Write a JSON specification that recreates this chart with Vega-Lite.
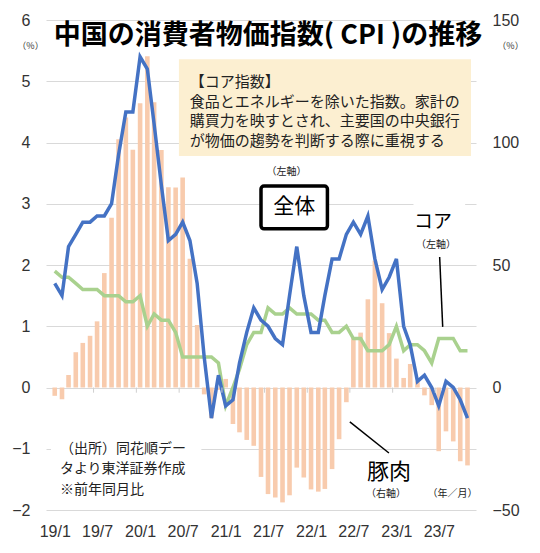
{
  "$schema": "https://vega.github.io/schema/vega-lite/v6.json",
  "width": 430,
  "height": 490,
  "autosize": {"type": "none"},
  "padding": {"left": 46, "top": 20, "right": 64, "bottom": 43},
  "background": "white",
  "title": {
    "text": "中国の消費者物価指数( CPI )の推移",
    "font": "Noto Sans CJK JP",
    "fontSize": 27,
    "fontWeight": "bold",
    "color": "#000",
    "anchor": "middle",
    "frame": "group",
    "offset": -38,
    "dx": 7
  },
  "config": {
    "view": {"stroke": null},
    "axis": {"labelFont": "Liberation Sans", "labelFontSize": 16, "labelColor": "#333", "titleFont": "Noto Sans CJK JP"}
  },
  "data": {
    "values": [
      {"date": "2019-01", "cpi": 1.7, "core": 1.9, "pork": -3.4},
      {"date": "2019-02", "cpi": 1.5, "core": 1.8, "pork": -4.8},
      {"date": "2019-03", "cpi": 2.3, "core": 1.8, "pork": 5.1},
      {"date": "2019-04", "cpi": 2.5, "core": 1.7, "pork": 14.4},
      {"date": "2019-05", "cpi": 2.7, "core": 1.6, "pork": 18.2},
      {"date": "2019-06", "cpi": 2.7, "core": 1.6, "pork": 21.1},
      {"date": "2019-07", "cpi": 2.8, "core": 1.6, "pork": 27.0},
      {"date": "2019-08", "cpi": 2.8, "core": 1.5, "pork": 46.7},
      {"date": "2019-09", "cpi": 3.0, "core": 1.5, "pork": 69.3},
      {"date": "2019-10", "cpi": 3.8, "core": 1.5, "pork": 101.3},
      {"date": "2019-11", "cpi": 4.5, "core": 1.4, "pork": 110.2},
      {"date": "2019-12", "cpi": 4.5, "core": 1.4, "pork": 97.0},
      {"date": "2020-01", "cpi": 5.4, "core": 1.5, "pork": 116.0},
      {"date": "2020-02", "cpi": 5.2, "core": 1.0, "pork": 135.2},
      {"date": "2020-03", "cpi": 4.3, "core": 1.2, "pork": 116.4},
      {"date": "2020-04", "cpi": 3.3, "core": 1.1, "pork": 96.9},
      {"date": "2020-05", "cpi": 2.4, "core": 1.1, "pork": 81.7},
      {"date": "2020-06", "cpi": 2.5, "core": 0.9, "pork": 81.6},
      {"date": "2020-07", "cpi": 2.7, "core": 0.5, "pork": 85.7},
      {"date": "2020-08", "cpi": 2.4, "core": 0.5, "pork": 52.6},
      {"date": "2020-09", "cpi": 1.7, "core": 0.5, "pork": 25.5},
      {"date": "2020-10", "cpi": 0.5, "core": 0.5, "pork": -2.8},
      {"date": "2020-11", "cpi": -0.5, "core": 0.5, "pork": -12.5},
      {"date": "2020-12", "cpi": 0.2, "core": 0.4, "pork": -1.0},
      {"date": "2021-01", "cpi": -0.3, "core": -0.3, "pork": 3.5},
      {"date": "2021-02", "cpi": -0.2, "core": 0.0, "pork": -14.9},
      {"date": "2021-03", "cpi": 0.4, "core": 0.3, "pork": -18.3},
      {"date": "2021-04", "cpi": 0.9, "core": 0.7, "pork": -21.4},
      {"date": "2021-05", "cpi": 1.3, "core": 0.9, "pork": -23.8},
      {"date": "2021-06", "cpi": 1.1, "core": 0.9, "pork": -36.5},
      {"date": "2021-07", "cpi": 1.0, "core": 1.3, "pork": -43.5},
      {"date": "2021-08", "cpi": 0.8, "core": 1.2, "pork": -44.9},
      {"date": "2021-09", "cpi": 0.7, "core": 1.2, "pork": -46.9},
      {"date": "2021-10", "cpi": 1.5, "core": 1.3, "pork": -44.0},
      {"date": "2021-11", "cpi": 2.3, "core": 1.2, "pork": -32.7},
      {"date": "2021-12", "cpi": 1.5, "core": 1.2, "pork": -36.7},
      {"date": "2022-01", "cpi": 0.9, "core": 1.2, "pork": -41.6},
      {"date": "2022-02", "cpi": 0.9, "core": 1.1, "pork": -42.5},
      {"date": "2022-03", "cpi": 1.5, "core": 1.1, "pork": -41.4},
      {"date": "2022-04", "cpi": 2.1, "core": 0.9, "pork": -33.3},
      {"date": "2022-05", "cpi": 2.1, "core": 0.9, "pork": -21.1},
      {"date": "2022-06", "cpi": 2.5, "core": 1.0, "pork": -6.0},
      {"date": "2022-07", "cpi": 2.7, "core": 0.8, "pork": 20.2},
      {"date": "2022-08", "cpi": 2.5, "core": 0.8, "pork": 22.4},
      {"date": "2022-09", "cpi": 2.8, "core": 0.6, "pork": 36.0},
      {"date": "2022-10", "cpi": 2.1, "core": 0.6, "pork": 51.8},
      {"date": "2022-11", "cpi": 1.6, "core": 0.6, "pork": 34.4},
      {"date": "2022-12", "cpi": 1.8, "core": 0.7, "pork": 22.2},
      {"date": "2023-01", "cpi": 2.1, "core": 1.0, "pork": 11.8},
      {"date": "2023-02", "cpi": 1.0, "core": 0.6, "pork": 3.9},
      {"date": "2023-03", "cpi": 0.7, "core": 0.7, "pork": 9.6},
      {"date": "2023-04", "cpi": 0.1, "core": 0.7, "pork": 2.5},
      {"date": "2023-05", "cpi": 0.2, "core": 0.6, "pork": -3.2},
      {"date": "2023-06", "cpi": 0.0, "core": 0.4, "pork": -7.2},
      {"date": "2023-07", "cpi": -0.3, "core": 0.8, "pork": -26.0},
      {"date": "2023-08", "cpi": 0.1, "core": 0.8, "pork": -17.9},
      {"date": "2023-09", "cpi": 0.0, "core": 0.8, "pork": -22.0},
      {"date": "2023-10", "cpi": -0.2, "core": 0.6, "pork": -30.1},
      {"date": "2023-11", "cpi": -0.5, "core": 0.6, "pork": -31.8}
    ]
  },
  "resolve": {
    "scale": {"y": "independent"},
    "axis": {"y": "independent"}
  },
  "layer": [
    {
      "mark": {"type": "bar", "color": "#f8cbad", "width": 4.6},
      "encoding": {
        "x": {
          "field": "date",
          "type": "temporal",
          "scale": {
            "type": "utc",
            "domain": [
              {"year": 2018, "month": 12, "date": 16, "utc": true},
              {"year": 2023, "month": 11, "date": 16, "utc": true}
            ]
          },
          "axis": {
            "orient": "bottom",
            "title": null,
            "values": [
              {"year": 2019, "month": 1, "date": 1, "utc": true},
              {"year": 2019, "month": 7, "date": 1, "utc": true},
              {"year": 2020, "month": 1, "date": 1, "utc": true},
              {"year": 2020, "month": 7, "date": 1, "utc": true},
              {"year": 2021, "month": 1, "date": 1, "utc": true},
              {"year": 2021, "month": 7, "date": 1, "utc": true},
              {"year": 2022, "month": 1, "date": 1, "utc": true},
              {"year": 2022, "month": 7, "date": 1, "utc": true},
              {"year": 2023, "month": 1, "date": 1, "utc": true},
              {"year": 2023, "month": 7, "date": 1, "utc": true}
            ],
            "labelExpr": "utcFormat(datum.value, '%y/%-m')",
            "ticks": false,
            "tickSize": 0,
            "domain": false,
            "grid": false,
            "labelPadding": 13,
            "labelFlush": false,
            "labelOverlap": false
          }
        },
        "y": {
          "field": "pork",
          "type": "quantitative",
          "scale": {"domain": [-50, 150], "nice": false},
          "axis": {
            "orient": "right",
            "values": [-50, 0, 50, 100, 150],
            "format": "d",
            "grid": false,
            "domain": false,
            "ticks": false,
            "tickSize": 0,
            "labelPadding": 16,
            "labelAlign": "left",
            "title": "（%）",
            "titleFontSize": 9,
            "titleFontWeight": "normal",
            "titleColor": "#333",
            "titleAngle": 0,
            "titleAlign": "center",
            "titleBaseline": "middle",
            "titleX": 34,
            "titleY": 25
          }
        }
      }
    },
    {
      "layer": [
        {
          "mark": {"type": "line", "color": "#a9d18e", "strokeWidth": 3.5},
          "encoding": {
            "x": {"field": "date", "type": "temporal"},
            "y": {
              "field": "core",
              "type": "quantitative",
              "scale": {"domain": [-2, 6], "nice": false},
              "axis": {
                "orient": "left",
                "values": [-2, -1, 0, 1, 2, 3, 4, 5, 6],
                "format": "d",
                "grid": true,
                "gridColor": "#d9d9d9",
                "domain": false,
                "ticks": false,
                "tickSize": 0,
                "labelPadding": 16,
                "title": "（%）",
                "titleFontSize": 9,
                "titleFontWeight": "normal",
                "titleColor": "#333",
                "titleAngle": 0,
                "titleAlign": "center",
                "titleBaseline": "middle",
                "titleX": -16,
                "titleY": 25
              }
            }
          }
        },
        {
          "mark": {"type": "line", "color": "#4472c4", "strokeWidth": 3.5},
          "encoding": {
            "x": {"field": "date", "type": "temporal"},
            "y": {"field": "cpi", "type": "quantitative"}
          }
        },
        {
          "data": {
            "values": [
              {"b": "2019-06-16"}, {"b": "2019-12-16"}, {"b": "2020-06-16"},
              {"b": "2020-12-16"}, {"b": "2021-06-16"}, {"b": "2021-12-16"},
              {"b": "2022-06-16"}, {"b": "2022-12-16"}, {"b": "2023-06-16"}
            ]
          },
          "mark": {"type": "rule", "color": "#cfcfcf", "strokeWidth": 1},
          "encoding": {
            "x": {"field": "b", "type": "temporal"},
            "y": {"datum": 0, "type": "quantitative"},
            "y2": {"datum": -0.085}
          }
        },
        {
          "data": {"values": [{}]},
          "mark": {"type": "rect", "fill": "white"},
          "encoding": {
            "x": {"datum": {"year": 2018, "month": 12, "date": 16, "utc": true}, "type": "temporal"},
            "x2": {"datum": {"year": 2020, "month": 9, "date": 19, "utc": true}},
            "y": {"datum": -0.78, "type": "quantitative"},
            "y2": {"datum": -1.84}
          }
        },
        {
          "data": {"values": [{}]},
          "mark": {"type": "rect", "fill": "white"},
          "encoding": {
            "x": {"datum": {"year": 2023, "month": 3, "date": 15, "utc": true}, "type": "temporal"},
            "x2": {"datum": {"year": 2023, "month": 10, "date": 22, "utc": true}},
            "y": {"datum": 3.06, "type": "quantitative"},
            "y2": {"datum": 2.11}
          }
        },
        {
          "data": {"values": [{}]},
          "mark": {"type": "rect", "fill": "#fcefd1"},
          "encoding": {
            "x": {"datum": {"year": 2020, "month": 6, "date": 15, "utc": true}, "type": "temporal"},
            "x2": {"datum": {"year": 2023, "month": 11, "date": 16, "utc": true}},
            "y": {"datum": 5.36, "type": "quantitative"},
            "y2": {"datum": 3.78}
          }
        },
        {
          "data": {"values": [{}]},
          "mark": {"type": "rect", "fill": "white", "stroke": "#000", "strokeWidth": 3.5, "cornerRadius": 3},
          "encoding": {
            "x": {"datum": {"year": 2021, "month": 6, "date": 1, "utc": true}, "type": "temporal"},
            "x2": {"datum": {"year": 2022, "month": 3, "date": 12, "utc": true}},
            "y": {"datum": 3.29, "type": "quantitative"},
            "y2": {"datum": 2.59}
          }
        },
        {
          "data": {"values": [{}]},
          "mark": {"type": "text", "font": "Noto Sans CJK JP", "fontSize": 15, "lineHeight": 19.5, "align": "left", "baseline": "middle", "color": "#222"},
          "encoding": {
            "x": {"datum": {"year": 2020, "month": 7, "date": 31, "utc": true}, "type": "temporal"},
            "y": {"datum": 4.98, "type": "quantitative"},
            "text": {"value": ["【コア指数】", "食品とエネルギーを除いた指数。家計の", "購買力を映すとされ、主要国の中央銀行", "が物価の趨勢を判断する際に重視する"]}
          }
        },
        {
          "data": {"values": [{}]},
          "mark": {"type": "text", "font": "Noto Sans CJK JP", "fontSize": 14, "lineHeight": 20.5, "align": "left", "baseline": "middle", "color": "#222"},
          "encoding": {
            "x": {"datum": {"year": 2019, "month": 1, "date": 23, "utc": true}, "type": "temporal"},
            "y": {"datum": -1.0, "type": "quantitative"},
            "text": {"value": ["（出所）同花順デー", "タより東洋証券作成", "※前年同月比"]}
          }
        },
        {
          "data": {"values": [{}]},
          "mark": {"type": "text", "font": "Noto Sans CJK JP", "fontSize": 21, "align": "center", "baseline": "middle", "color": "#000"},
          "encoding": {
            "x": {"datum": {"year": 2021, "month": 10, "date": 21, "utc": true}, "type": "temporal"},
            "y": {"datum": 2.95, "type": "quantitative"},
            "text": {"value": "全体"}
          }
        },
        {
          "data": {"values": [{}]},
          "mark": {"type": "text", "font": "Noto Sans CJK JP", "fontSize": 10, "align": "center", "baseline": "middle", "color": "#222"},
          "encoding": {
            "x": {"datum": {"year": 2021, "month": 9, "date": 18, "utc": true}, "type": "temporal"},
            "y": {"datum": 3.52, "type": "quantitative"},
            "text": {"value": "（左軸）"}
          }
        },
        {
          "data": {"values": [{}]},
          "mark": {"type": "text", "font": "Noto Sans CJK JP", "fontSize": 19, "align": "center", "baseline": "middle", "color": "#000"},
          "encoding": {
            "x": {"datum": {"year": 2023, "month": 6, "date": 6, "utc": true}, "type": "temporal"},
            "y": {"datum": 2.70, "type": "quantitative"},
            "text": {"value": "コア"}
          }
        },
        {
          "data": {"values": [{}]},
          "mark": {"type": "text", "font": "Noto Sans CJK JP", "fontSize": 10, "align": "center", "baseline": "middle", "color": "#222"},
          "encoding": {
            "x": {"datum": {"year": 2023, "month": 6, "date": 19, "utc": true}, "type": "temporal"},
            "y": {"datum": 2.33, "type": "quantitative"},
            "text": {"value": "（左軸）"}
          }
        },
        {
          "data": {"values": [{}]},
          "mark": {"type": "text", "font": "Noto Sans CJK JP", "fontSize": 22, "align": "center", "baseline": "middle", "color": "#000"},
          "encoding": {
            "x": {"datum": {"year": 2022, "month": 11, "date": 30, "utc": true}, "type": "temporal"},
            "y": {"datum": -1.38, "type": "quantitative"},
            "text": {"value": "豚肉"}
          }
        },
        {
          "data": {"values": [{}]},
          "mark": {"type": "text", "font": "Noto Sans CJK JP", "fontSize": 10, "align": "center", "baseline": "middle", "color": "#222"},
          "encoding": {
            "x": {"datum": {"year": 2022, "month": 11, "date": 18, "utc": true}, "type": "temporal"},
            "y": {"datum": -1.74, "type": "quantitative"},
            "text": {"value": "（右軸）"}
          }
        },
        {
          "data": {"values": [{}]},
          "mark": {"type": "text", "font": "Noto Sans CJK JP", "fontSize": 10, "align": "center", "baseline": "middle", "color": "#222"},
          "encoding": {
            "x": {"datum": {"year": 2023, "month": 8, "date": 29, "utc": true}, "type": "temporal"},
            "y": {"datum": -1.74, "type": "quantitative"},
            "text": {"value": "（年／月）"}
          }
        },
        {
          "data": {"values": [{}]},
          "mark": {"type": "rule", "color": "#000", "strokeWidth": 1.5},
          "encoding": {
            "x": {"datum": {"year": 2023, "month": 7, "date": 5, "utc": true}, "type": "temporal"},
            "x2": {"datum": {"year": 2023, "month": 7, "date": 18, "utc": true}},
            "y": {"datum": 2.13, "type": "quantitative"},
            "y2": {"datum": 0.99}
          }
        },
        {
          "data": {"values": [{}]},
          "mark": {"type": "rule", "color": "#000", "strokeWidth": 1.5},
          "encoding": {
            "x": {"datum": {"year": 2022, "month": 6, "date": 16, "utc": true}, "type": "temporal"},
            "x2": {"datum": {"year": 2022, "month": 11, "date": 30, "utc": true}},
            "y": {"datum": -0.56, "type": "quantitative"},
            "y2": {"datum": -1.07}
          }
        }
      ]
    }
  ]
}
